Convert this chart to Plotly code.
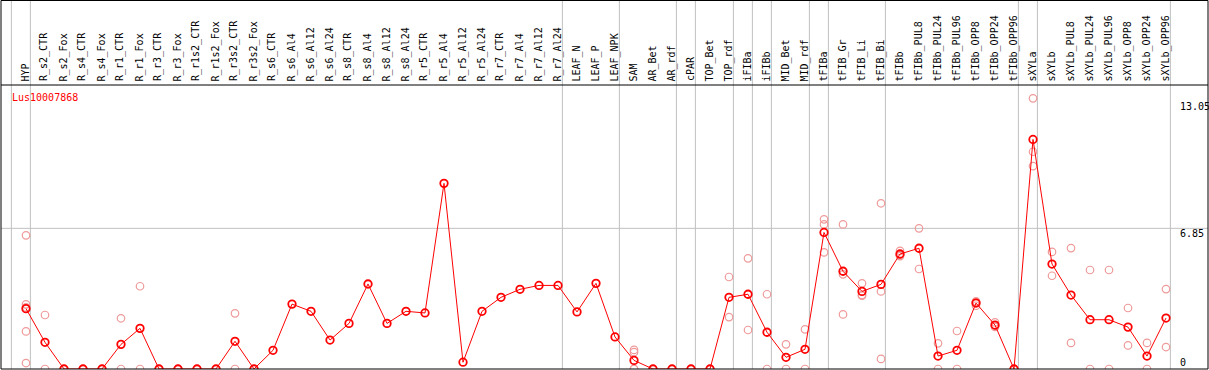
import plotly.graph_objects as go

gene = "Lus10007868"

categories = [
    "HYP", "R_s2_CTR", "R_s2_Fox", "R_s4_CTR", "R_s4_Fox", "R_r1_CTR", "R_r1_Fox",
    "R_r3_CTR", "R_r3_Fox", "R_r1s2_CTR", "R_r1s2_Fox", "R_r3s2_CTR", "R_r3s2_Fox",
    "R_s6_CTR", "R_s6_Al4", "R_s6_Al12", "R_s6_Al24", "R_s8_CTR", "R_s8_Al4",
    "R_s8_Al12", "R_s8_Al24", "R_r5_CTR", "R_r5_Al4", "R_r5_Al12", "R_r5_Al24",
    "R_r7_CTR", "R_r7_Al4", "R_r7_Al12", "R_r7_Al24", "LEAF_N", "LEAF_P", "LEAF_NPK",
    "SAM", "AR_Bet", "AR_rdf", "cPAR", "TOP_Bet", "TOP_rdf", "iFIBa", "iFIBb",
    "MID_Bet", "MID_rdf", "tFIBa", "tFIB_Gr", "tFIB_Li", "tFIB_Bi", "tFIBb",
    "tFIBb_PUL8", "tFIBb_PUL24", "tFIBb_PUL96", "tFIBb_OPP8", "tFIBb_OPP24",
    "tFIBb_OPP96", "sXYLa", "sXYLb", "sXYLb_PUL8", "sXYLb_PUL24", "sXYLb_PUL96",
    "sXYLb_OPP8", "sXYLb_OPP24", "sXYLb_OPP96",
]

means = [
    2.94, 1.30, 0, 0, 0, 1.20, 1.98,
    0, 0, 0, 0, 1.35, 0,
    0.91, 3.16, 2.81, 1.41, 2.22, 4.14,
    2.22, 2.81, 2.73, 9.04, 0.33, 2.81,
    3.49, 3.88, 4.07, 4.07, 2.78, 4.17, 1.56,
    0.42, 0, 0, 0, 0, 3.49, 3.64, 1.79,
    0.57, 0.96, 6.65, 4.76, 3.78, 4.12, 5.60,
    5.88, 0.63, 0.91, 3.21, 2.14,
    0, 11.18, 5.11, 3.60, 2.40, 2.40,
    2.04, 0.63, 2.48,
]

replicates = [
    [6.51, 3.15, 3.0, 1.83, 0.29], [2.63, 0], [0, 0], [0, 0], [0, 0], [2.47, 0], [4.03, 0],
    [0, 0], [0, 0], [0, 0], [0, 0], [2.71, 0], [0, 0],
    [], [], [], [], [], [],
    [], [], [], [], [], [],
    [], [], [], [], [], [], [],
    [0.93, 0.82, 0, 0], [0, 0], [0, 0], [0, 0], [0, 0], [4.48, 2.53], [5.39, 1.90], [3.64, 0],
    [1.20, 0], [1.93, 0], [7.29, 7.04, 5.68], [7.04, 4.61, 2.66], [4.17, 3.57, 3.6],
    [8.07, 3.78, 0.49], [5.75, 5.55, 5.5],
    [6.85, 4.87], [1.25, 0], [1.85, 0], [3.29, 3.08, 3.25], [2.27, 2.11, 2.05],
    [0, 0], [13.18, 10.58, 9.88], [5.70, 4.54], [5.89, 1.27], [4.82, 0], [4.82, 0],
    [2.97, 1.15], [1.27, 0], [3.89, 1.07],
]

group_last = ["HYP", "R_r7_Al24", "LEAF_NPK", "AR_rdf", "cPAR", "TOP_rdf", "iFIBa",
              "iFIBb", "MID_rdf", "tFIBa", "tFIB_Bi", "tFIBb_OPP96", "sXYLa", "sXYLb_OPP96"]

y_tick_labels = [13.05, 6.85, 0]

# ---- layout geometry ----
W, H = 1209, 370
ml, mr, mt, mb = 1, 1, 85, 1
plot_h = H - mt - mb
top_paper = 1 + mt / plot_h
x_range = [-1.316, 62.21]
y_range = [0, 13.83]
sep_off = 0.23

RED = "#ff0000"
PINK = "#ef9a9a"
GRAY = "#c0c0c0"
FONT = "DejaVu Sans Mono"

rx, ry = [], []
for c, reps in zip(categories, replicates):
    for v in reps:
        rx.append(c)
        ry.append(v)

fig = go.Figure()
fig.add_trace(go.Scatter(
    x=rx, y=ry, mode="markers",
    marker=dict(symbol="circle-open", size=7.5, color=PINK, line=dict(width=1.2, color=PINK)),
    hoverinfo="skip", showlegend=False,
))
fig.add_trace(go.Scatter(
    x=categories, y=means, mode="lines+markers",
    line=dict(color=RED, width=1),
    marker=dict(symbol="circle-open", size=7.5, color=RED, line=dict(width=1.8, color=RED)),
    showlegend=False,
))

shapes = []
seps = [-1 + sep_off] + [categories.index(g) + sep_off for g in group_last]
for s in seps:
    shapes.append(dict(type="line", xref="x", yref="paper", x0=s, x1=s, y0=0, y1=top_paper,
                       line=dict(color=GRAY, width=1), layer="below"))
shapes.append(dict(type="line", xref="paper", yref="y", x0=0, x1=1, y0=y_tick_labels[1], y1=y_tick_labels[1],
                   line=dict(color=GRAY, width=1), layer="below"))
shapes.append(dict(type="line", xref="paper", yref="paper", x0=0, x1=1, y0=1, y1=1,
                   line=dict(color="black", width=1)))
shapes.append(dict(type="rect", xref="paper", yref="paper", x0=0, x1=1, y0=0, y1=top_paper - 0.5 / plot_h,
                   line=dict(color="black", width=1)))

annotations = []
for c in categories:
    annotations.append(dict(
        x=c, xref="x", y=1 + 1.5 / plot_h, yref="paper", text=c, showarrow=False,
        textangle=-90, xanchor="center", yanchor="bottom", xshift=-1,
        font=dict(family=FONT, size=10, color="black"),
    ))
annotations.append(dict(
    x=(9.5 - ml) / (W - ml - mr), xref="paper", y=(H - mb - 97.5) / plot_h, yref="paper",
    text=gene, showarrow=False, xanchor="left", yanchor="middle",
    font=dict(family=FONT, size=10, color=RED),
))
for v in y_tick_labels:
    annotations.append(dict(
        x=60.63, xref="x", y=v, yref="y", text=f"{v:g}" if v == 0 else f"{v:.2f}",
        showarrow=False, xanchor="left", yanchor="bottom" if v == 0 else "top",
        yshift=-1 if v == 0 else 2,
        font=dict(family=FONT, size=10, color="black"),
    ))

fig.update_layout(
    width=W, height=H,
    margin=dict(l=ml, r=mr, t=mt, b=mb, pad=0),
    paper_bgcolor="white", plot_bgcolor="white",
    xaxis=dict(type="category", categoryorder="array", categoryarray=categories,
               range=x_range, showgrid=False, zeroline=False, showticklabels=False,
               ticks="", showline=False, fixedrange=True),
    yaxis=dict(range=y_range, showgrid=False, zeroline=False, showticklabels=False,
               ticks="", showline=False, fixedrange=True),
    shapes=shapes, annotations=annotations,
)

fig.write_html(
    "out.html",
    config={"displayModeBar": False},
    post_script="document.body.style.margin='0';document.body.style.overflow='hidden';",
)
